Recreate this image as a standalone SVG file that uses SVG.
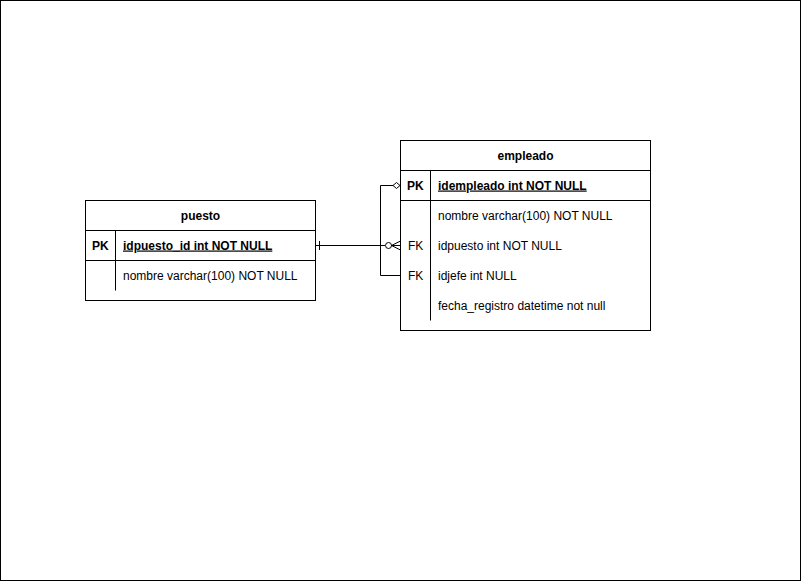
<svg xmlns="http://www.w3.org/2000/svg" width="801" height="581" viewBox="0 0 801 581">
<style>
.box{fill:#fff;stroke:#000;stroke-width:1}
.ln{fill:none;stroke:#000;stroke-width:1}
text{font-family:"Liberation Sans",Arial,Helvetica,sans-serif;font-size:12px;fill:#000}
.b{font-weight:bold}
.u{text-decoration:underline}
.c{text-anchor:middle}
</style>
<rect x="0.5" y="0.5" width="800" height="580" fill="#fff" stroke="#000"/>
<g id="puesto">
<rect class="box" x="85.5" y="200.5" width="230" height="100"/>
<line class="ln" x1="85.5" y1="230.5" x2="315.5" y2="230.5"/>
<line class="ln" x1="85.5" y1="260.5" x2="315.5" y2="260.5"/>
<line class="ln" x1="115.5" y1="230.5" x2="115.5" y2="290.5"/>
<text class="b c" x="200.5" y="219.5">puesto</text>
<text class="b" x="92" y="249.5">PK</text>
<text class="b u" x="123" y="249.5">idpuesto_id int NOT NULL</text>
<text x="123" y="279.5">nombre varchar(100) NOT NULL</text>
</g>
<g id="empleado">
<rect class="box" x="400.5" y="140.5" width="250" height="190"/>
<line class="ln" x1="400.5" y1="170.5" x2="650.5" y2="170.5"/>
<line class="ln" x1="400.5" y1="200.5" x2="650.5" y2="200.5"/>
<line class="ln" x1="430.5" y1="170.5" x2="430.5" y2="320.5"/>
<text class="b c" x="525.5" y="159.5">empleado</text>
<text class="b" x="407" y="189.5">PK</text>
<text class="b u" x="438" y="189.5">idempleado int NOT NULL</text>
<text x="438" y="219.5">nombre varchar(100) NOT NULL</text>
<text x="408" y="249.5">FK</text>
<text x="438" y="249.5">idpuesto int NOT NULL</text>
<text x="408" y="279.5">FK</text>
<text x="438" y="279.5">idjefe int NULL</text>
<text x="438" y="309.5">fecha_registro datetime not null</text>
</g>
<g id="connectors">
<line class="ln" x1="315.5" y1="245.5" x2="385" y2="245.5"/>
<line class="ln" x1="319.5" y1="241" x2="319.5" y2="250"/>
<circle class="ln" cx="388.5" cy="245.5" r="3" fill="#fff"/>
<path class="ln" d="M400.5 241 L391.5 245.5 L400.5 250 M391.5 245.5 H400.5"/>
<path class="ln" d="M400.5 275.5 H380.5 V185.5 H393"/>
<path class="ln" d="M393 185.5 L396.5 182.5 L400 185.5 L396.5 188.5 Z" fill="#fff"/>
</g>
</svg>
